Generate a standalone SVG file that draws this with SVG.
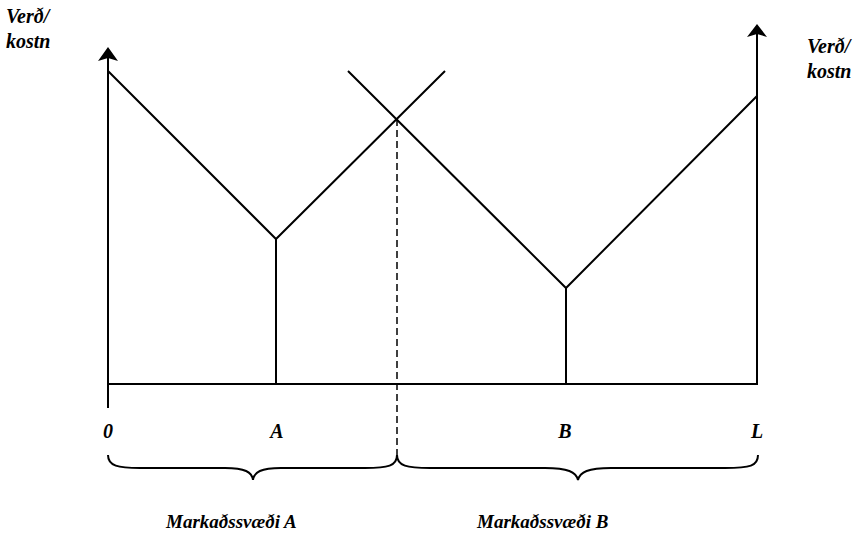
<svg xmlns="http://www.w3.org/2000/svg" width="855" height="536" viewBox="0 0 855 536">
<defs>
<style>
.ln{stroke:#000;stroke-width:2;fill:none}
.ds{stroke:#000;stroke-width:1.5;fill:none;stroke-dasharray:7,4}
.t{font-family:"Liberation Serif","Times New Roman",serif;font-weight:bold;font-style:italic;font-size:20px;fill:#000}
.b{font-size:19px}
</style>
</defs>
<rect width="855" height="536" fill="#fff"/>
<g id="axes">
<line class="ln" x1="108" y1="408" x2="108" y2="50"/>
<polygon points="108,47 98,61 108,58 118,61" fill="#000"/>
<line class="ln" x1="757" y1="384" x2="757" y2="28"/>
<polygon points="757,24 747,37 757,34 767,37" fill="#000"/>
<line class="ln" x1="108" y1="384" x2="758" y2="384"/>
</g>
<g id="connectors">
<polyline class="ln" points="108,71 276,239 445,71"/>
<line class="ln" x1="276" y1="239" x2="276" y2="384"/>
<polyline class="ln" points="348,71 566,288 757,96"/>
<line class="ln" x1="566" y1="288" x2="566" y2="384"/>
<line class="ds" x1="397" y1="119" x2="397" y2="458"/>
<path class="ln" d="M108,455 C108,466 118,468 140,468 L225,468 C245,468 252,472 253,480 C254,472 261,468 281,468 L365,468 C388,468 397,466 397,455"/>
<path class="ln" d="M397,455 C397,466 407,468 430,468 L545,468 C568,468 576,472 578,480 C580,472 588,468 611,468 L725,468 C750,468 758,466 758,455"/>
</g>
<g id="labels">
<text class="t" x="6" y="23">Verð/</text>
<text class="t" x="6" y="48">kostn</text>
<text class="t" x="807" y="53">Verð/</text>
<text class="t" x="807" y="78">kostn</text>
<text class="t" x="108" y="438" text-anchor="middle">0</text>
<text class="t" x="277" y="438" text-anchor="middle">A</text>
<text class="t" x="565" y="438" text-anchor="middle">B</text>
<text class="t" x="757" y="438" text-anchor="middle">L</text>
<text class="t b" x="166" y="528">Markaðssvæði A</text>
<text class="t b" x="477" y="528">Markaðssvæði B</text>
</g>
</svg>
